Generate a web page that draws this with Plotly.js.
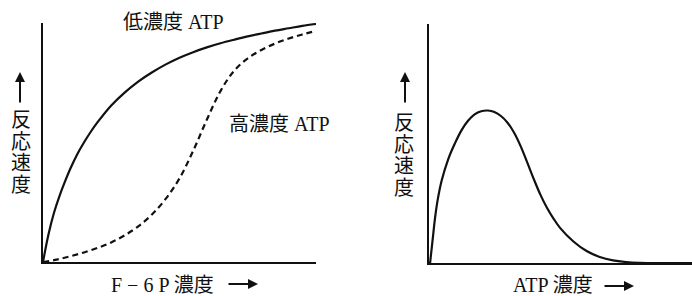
<!DOCTYPE html>
<html>
<head>
<meta charset="utf-8">
<script src="https://cdn.plot.ly/plotly-3.0.1.min.js"></script>
<style>html,body{margin:0;padding:0;background:#fff;}#chart{width:692px;height:296px;}</style>
</head>
<body>
<div id="chart"></div>
<script>
// Left panel: reaction rate vs F-6P concentration
const lowAtpX  = [0, 2, 4, 6, 8, 10, 12.5, 15, 17.5, 20, 25, 30, 35, 40, 45, 50, 55, 60, 65, 70, 75, 80, 85, 90, 95, 100];
const lowAtpY  = [0, 11.5, 20.5, 27.5, 33.5, 39, 45, 50, 54.5, 58.5, 65.5, 71, 75.6, 79.4, 82.7, 85.5, 87.8, 89.8, 91.5, 93, 94.4, 95.6, 96.8, 97.8, 98.8, 99.6];
const highAtpX = [0, 5, 10, 15, 20, 25, 30, 35, 40, 45, 50, 55, 60, 65, 70, 75, 80, 85, 90, 95, 100];
const highAtpY = [0, 1, 2.4, 4, 5.9, 8.2, 11.2, 15, 20, 26.5, 35, 46.5, 59.5, 71.5, 80, 85.2, 88.7, 91.4, 93.5, 95.2, 96.7];
// Right panel: reaction rate vs ATP concentration
const atpX = [0.6, 1.5, 2.5, 3.5, 5, 7.5, 10, 12.5, 15, 17.5, 20, 22.5, 25, 27.5, 30, 32.5, 35, 37.5, 40, 42.5, 45, 47.5, 50, 55, 60, 65, 70, 75, 80, 100];
const atpY = [0, 9, 19, 26.5, 34.5, 43.5, 50, 55.5, 59.5, 62.2, 63.5, 63.8, 63.2, 61.5, 58.7, 54.5, 48.8, 42, 35, 28.5, 23, 18.5, 14.6, 9, 5, 2.5, 1.1, 0.4, 0.1, 0];

const lowLabel = '低濃度 ATP';
const highLabel = '高濃度 ATP';
const yLabelChars = ['反', '応', '速', '度'];
const xLabelLeft = 'F − 6 P 濃度';
const xLabelRight = 'ATP 濃度';

const W = 692, H = 296;
const px = v => v / W;
const py = v => 1 - v / H;
const FONT = {family: "'Liberation Serif', 'Noto Sans CJK JP', serif", size: 20, color: '#111'};

const traces = [
  {x: lowAtpX, y: lowAtpY, mode: 'lines', line: {color: '#111', width: 2.2, shape: 'spline', smoothing: 1}, xaxis: 'x', yaxis: 'y', hoverinfo: 'skip'},
  {x: highAtpX, y: highAtpY, mode: 'lines', line: {color: '#111', width: 2.2, dash: '6px,4px', shape: 'spline', smoothing: 1}, xaxis: 'x', yaxis: 'y', hoverinfo: 'skip'},
  {x: atpX, y: atpY, mode: 'lines', line: {color: '#111', width: 2.2, shape: 'spline', smoothing: 1}, xaxis: 'x2', yaxis: 'y2', hoverinfo: 'skip'}
];

const axisCommon = {showline: true, linecolor: '#111', linewidth: 2, showgrid: false, zeroline: false, ticks: '', showticklabels: false, range: [0, 100], fixedrange: true};

const annotations = [];
function textAnn(text, x, y) {
  annotations.push({text: text, x: px(x), y: py(y), xref: 'paper', yref: 'paper', showarrow: false, font: FONT, xanchor: 'center', yanchor: 'middle'});
}
function arrowAnn(x1, y1, x0, y0) {
  annotations.push({text: '', x: px(x1), y: py(y1), xref: 'paper', yref: 'paper', ax: x0 - x1, ay: y0 - y1, axref: 'pixel', ayref: 'pixel', showarrow: true, arrowhead: 2, arrowsize: 1, arrowwidth: 2, arrowcolor: '#111', standoff: 0, startstandoff: 0});
}

textAnn(lowLabel, 173, 22.5);
textAnn(highLabel, 279, 124);
// left y label
arrowAnn(20, 72, 20, 104);
yLabelChars.forEach((c, i) => textAnn(c, 21, 120 + i * 21.7));
// right y label
arrowAnn(405, 72, 405, 104);
yLabelChars.forEach((c, i) => textAnn(c, 404, 123 + i * 21.7));
// x labels
textAnn(xLabelLeft, 162, 285);
arrowAnn(258, 284, 227, 284);
textAnn(xLabelRight, 553, 285);
arrowAnn(634, 286, 603, 286);

const layout = {
  width: W, height: H,
  margin: {l: 0, r: 0, t: 0, b: 0},
  paper_bgcolor: '#fff', plot_bgcolor: 'rgba(0,0,0,0)',
  showlegend: false,
  xaxis: Object.assign({}, axisCommon, {domain: [43 / W, 316 / W], anchor: 'y'}),
  yaxis: Object.assign({}, axisCommon, {domain: [1 - 262 / H, 1 - 23 / H], anchor: 'x'}),
  xaxis2: Object.assign({}, axisCommon, {domain: [428.5 / W, 1], anchor: 'y2'}),
  yaxis2: Object.assign({}, axisCommon, {domain: [1 - 263 / H, 1 - 24 / H], anchor: 'x2'}),
  annotations: annotations
};

Plotly.newPlot('chart', traces, layout, {displayModeBar: false, staticPlot: true});
</script>
</body>
</html>
